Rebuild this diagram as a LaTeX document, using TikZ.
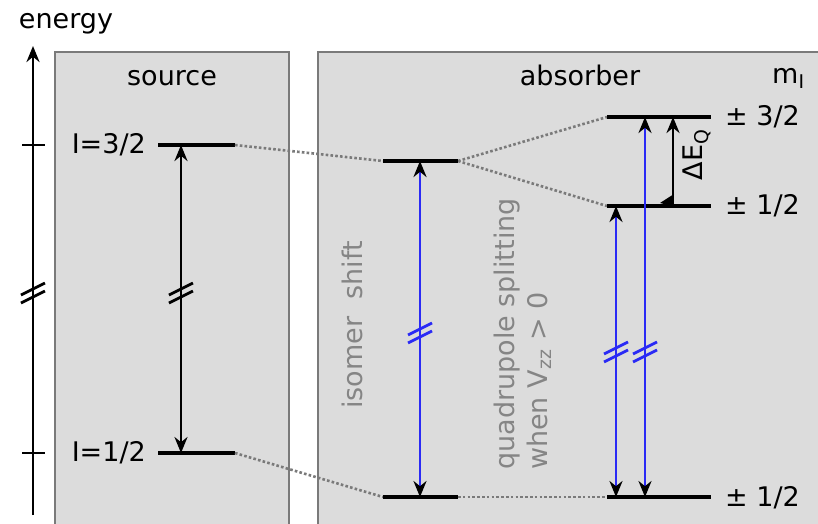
\documentclass[tikz,border=0pt]{standalone}
\usepackage{fontspec}
\setmainfont{DejaVu Sans}
\usetikzlibrary{arrows.meta}
\definecolor{boxgray}{HTML}{DCDCDC}
\definecolor{bordergray}{HTML}{7A7A7A}
\definecolor{dotgray}{HTML}{7A7A7A}
\definecolor{txtgray}{HTML}{858585}
\definecolor{arrblue}{HTML}{2A2AF5}
\begin{document}
\begin{tikzpicture}[x=1pt,y=-1pt,
  txt/.style={font=\fontsize{27}{33}\selectfont, inner sep=0pt},
  graytxt/.style={txt, text=txtgray, rotate=90, align=left},
  panel/.style={fill=boxgray, draw=bordergray, line width=2.4pt},
  level/.style={line width=4pt, line cap=butt},
  dots/.style={draw=dotgray, line width=2.6pt, dash pattern=on 2.6pt off 2.2pt},
  tr/.style={line width=2.6pt, {Stealth[length=16pt,width=13pt,black]}-{Stealth[length=16pt,width=13pt,black]}},
  bluetr/.style={tr, draw=arrblue},
  brk/.pic={\draw[line width=2.8pt,#1] (-12,2)--(12,-10); \draw[line width=2.8pt,#1] (-12,10)--(12,-2);}
]
\useasboundingbox (0,0) rectangle (818,523);
\fill[white] (0,0) rectangle (818,523);

% panels
\draw[panel] (55,52) rectangle (289,540);
\draw[panel] (318,52) rectangle (840,540);

% energy axis
\coordinate (ax0) at (33,515);
\coordinate (ax1) at (33,46);
\draw[line width=2.8pt, -{Stealth[length=16pt,width=13pt]}] (ax0) -- (ax1);
\coordinate (t1a) at (22,145); \coordinate (t1b) at (45,145);
\coordinate (t2a) at (22,453); \coordinate (t2b) at (45,453);
\draw[line width=2.8pt] (t1a) -- (t1b);
\draw[line width=2.8pt] (t2a) -- (t2b);
\pic at (33,293) {brk=black};

\node[txt, anchor=base] (energy) at (66,28) {energy};
\node[txt, anchor=base] (source) at (172,85) {source};
\node[txt, anchor=base] (absorber) at (580,85) {absorber};
\node[txt, anchor=base west] (mI) at (772,83) {m\textsubscript{I}};

% source levels
\coordinate (s3l) at (158,145); \coordinate (s3r) at (235,145);
\coordinate (s1l) at (158,453); \coordinate (s1r) at (235,453);
\draw[level] (s3l) -- (s3r);
\draw[level] (s1l) -- (s1r);
\node[txt, anchor=base east] (lab32) at (146,153) {I=3/2};
\node[txt, anchor=base east] (lab12) at (146,461) {I=1/2};
\coordinate (sa3) at (181,145); \coordinate (sa1) at (181,453);
\draw[tr] (sa3) -- (sa1);
\pic at (181,293) {brk=black};

% absorber levels
\coordinate (am_l) at (383,161); \coordinate (am_r) at (458,161);
\coordinate (ag_l) at (383,497); \coordinate (ag_r) at (458,497);
\coordinate (r3l) at (607,117); \coordinate (r3r) at (711,117);
\coordinate (r1l) at (607,206); \coordinate (r1r) at (711,206);
\coordinate (rgl) at (607,497); \coordinate (rgr) at (711,497);

% dotted correlation lines
\draw[dots] (s3r) -- (am_l);
\draw[dots] (s1r) -- (ag_l);
\draw[dots] (am_r) -- (r3l);
\draw[dots] (am_r) -- (r1l);
\draw[dots] (ag_r) -- (rgl);

\draw[level] (am_l) -- (am_r);
\draw[level] (ag_l) -- (ag_r);
\draw[level] (r3l) -- (r3r);
\draw[level] (r1l) -- (r1r);
\draw[level] (rgl) -- (rgr);

\node[txt, anchor=base west] (pm32) at (725,125) {± 3/2};
\node[txt, anchor=base west] (pm12a) at (725,214) {± 1/2};
\node[txt, anchor=base west] (pm12b) at (725,506) {± 1/2};

% isomer shift transition
\coordinate (ia) at (420,161); \coordinate (ib) at (420,497);
\draw[bluetr] (ia) -- (ib);
\pic at (420,333) {brk=arrblue};

% quadrupole transitions
\coordinate (qa1) at (616,206); \coordinate (qb1) at (616,497);
\coordinate (qa3) at (645,117); \coordinate (qb3) at (645,497);
\draw[bluetr] (qa1) -- (qb1);
\draw[bluetr] (qa3) -- (qb3);
\pic at (616,352) {brk=arrblue};
\pic at (645,352) {brk=arrblue};

% Delta E_Q
\coordinate (dq1) at (673,206); \coordinate (dq3) at (673,117);
\draw[line width=2.6pt, -{Stealth[length=16pt,width=13pt]}] (dq1) -- (dq3);
\fill (dq1) -- (660,203) -- (674,194) -- cycle;
\node[txt, rotate=90] (dEQ) at (697,155) {ΔE\textsubscript{Q}};

% gray annotations
\node[graytxt, anchor=center] (iso) at (352,325) {isomer\ \ shift};
\node[graytxt, anchor=west] (quad) at (523,470) {quadrupole splitting\\when V\textsubscript{zz} > 0};
\end{tikzpicture}
\end{document}
